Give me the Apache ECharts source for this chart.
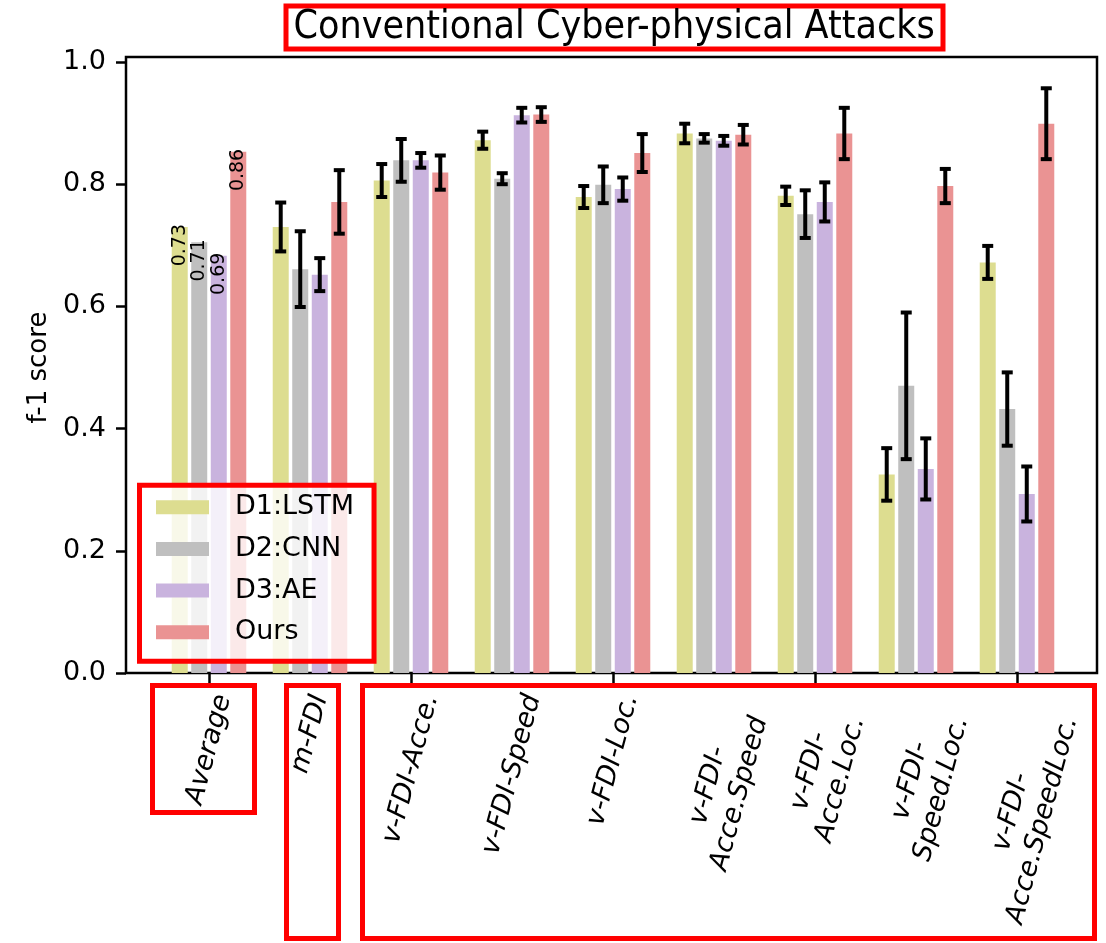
<!DOCTYPE html>
<html>
<head>
<meta charset="utf-8">
<script src="https://cdn.jsdelivr.net/npm/echarts@6/dist/echarts.min.js"></script>
<style>
  html, body { margin: 0; padding: 0; background: #fff; }
  #chart { width: 1106px; height: 943px; }
</style>
</head>
<body>
<div id="chart"></div>
<script>
var categories = ['Average', 'm-FDI', 'v-FDI-Acce.', 'v-FDI-Speed', 'v-FDI-Loc.',
  'v-FDI-\nAcce.Speed', 'v-FDI-\nAcce.Loc.', 'v-FDI-\nSpeed.Loc.', 'v-FDI-\nAcce.SpeedLoc.'];
var modelNames = ['D1:LSTM', 'D2:CNN', 'D3:AE', 'Ours'];

// bar heights
var lstm = [0.730, 0.730, 0.806, 0.872, 0.779, 0.883, 0.781, 0.325, 0.672];
var cnn  = [0.705, 0.661, 0.839, 0.809, 0.799, 0.875, 0.751, 0.470, 0.432];
var ae   = [0.683, 0.652, 0.839, 0.913, 0.792, 0.871, 0.771, 0.334, 0.293];
var ours = [0.853, 0.771, 0.819, 0.914, 0.851, 0.881, 0.883, 0.797, 0.899];

// half length of the error bars (none on the Average group)
var lstmErr = [null, 0.040, 0.027, 0.014, 0.018, 0.016, 0.015, 0.043, 0.027];
var cnnErr  = [null, 0.062, 0.035, 0.009, 0.030, 0.007, 0.039, 0.120, 0.060];
var aeErr   = [null, 0.027, 0.012, 0.012, 0.019, 0.008, 0.032, 0.050, 0.045];
var oursErr = [null, 0.052, 0.028, 0.012, 0.031, 0.016, 0.042, 0.028, 0.058];

// text printed on the Average bars
var avgLabels = ['0.73', '0.71', '0.69', '0.86'];

var yTicks = [0, 0.2, 0.4, 0.6, 0.8, 1.0];

var colors = ['#dddd90', '#bfbfbf', '#c9b3de', '#ea9393'];
var means = [lstm, cnn, ae, ours];
var errs = [lstmErr, cnnErr, aeErr, oursErr];

var font = 'DejaVu Sans';
var barW = 16;
var barGapPct = 22;
var barStep = barW * (1 + barGapPct / 100);

// x labels: matplotlib centres the rotated box under the tick,
// so work out where the centre of each rotated label goes
var theta = 75 * Math.PI / 180;
var xLabelSize = 27, xLabelLineH = 32, xLabelGap = 18;
var ctx = document.createElement('canvas').getContext('2d');
ctx.font = 'italic ' + xLabelSize + 'px "' + font + '"';
function lineW(s) { return ctx.measureText(s).width; }

var xLabelShift = categories.map(function (c) {
  var lines = c.split('\n');
  var L = Math.max.apply(null, lines.map(lineW));
  var H = lines.length * xLabelLineH;
  var multi = lines.length > 1;
  return {
    sx: multi ? 10 : 0,
    sy: xLabelGap + (L * Math.sin(theta) + H * Math.cos(theta)) / 2 + (multi ? 14 : 0)
  };
});

function barData(j) {
  return means[j].map(function (v, i) {
    if (i !== 0) return v;
    return {
      value: v,
      label: {
        show: true,
        position: 'insideTop',
        distance: -3,
        rotate: 90,
        align: 'right',
        verticalAlign: 'middle',
        formatter: avgLabels[j],
        fontFamily: font,
        fontSize: 19,
        color: '#000'
      }
    };
  });
}

function errData(j) {
  var out = [];
  for (var i = 0; i < means[j].length; i++) {
    if (errs[j][i] == null) continue;
    out.push([i, means[j][i] - errs[j][i], means[j][i] + errs[j][i]]);
  }
  return out;
}

function errSeries(j) {
  return {
    type: 'custom',
    name: 'err' + j,
    xAxisIndex: 1,
    yAxisIndex: 1,
    z: 5,
    silent: true,
    data: errData(j),
    renderItem: function (params, api) {
      var x = api.coord([api.value(0), 0])[0] + (j - 1.5) * barStep;
      var lo = api.coord([api.value(0), api.value(1)])[1];
      var hi = api.coord([api.value(0), api.value(2)])[1];
      var st = { stroke: '#000', lineWidth: 4 };
      var cap = 5.5;
      return {
        type: 'group',
        children: [
          { type: 'line', shape: { x1: x, y1: lo, x2: x, y2: hi }, style: st },
          { type: 'line', shape: { x1: x - cap, y1: lo, x2: x + cap, y2: lo }, style: st },
          { type: 'line', shape: { x1: x - cap, y1: hi, x2: x + cap, y2: hi }, style: st }
        ]
      };
    }
  };
}

var series = [];
for (var j = 0; j < 4; j++) {
  series.push({
    type: 'bar',
    name: modelNames[j],
    xAxisIndex: 1,
    yAxisIndex: 1,
    barWidth: barW,
    barGap: barGapPct + '%',
    itemStyle: { color: colors[j] },
    data: barData(j)
  });
}
for (var j = 0; j < 4; j++) series.push(errSeries(j));

// category labels, placed from the axis scale
series.push({
  type: 'custom',
  name: 'xlabels',
  xAxisIndex: 1,
  yAxisIndex: 1,
  silent: true,
  clip: false,
  z: 10,
  data: categories.map(function (c, i) { return [i, 0]; }),
  renderItem: function (params, api) {
    var i = api.value(0);
    var p = api.coord([i, 0]);
    var s = xLabelShift[i];
    return {
      type: 'text',
      x: p[0] + s.sx,
      y: p[1] + s.sy,
      rotation: theta,
      style: {
        text: categories[i],
        align: 'center',
        verticalAlign: 'middle',
        fill: '#000',
        fontFamily: font,
        fontStyle: 'italic',
        fontSize: xLabelSize,
        lineHeight: xLabelLineH
      }
    };
  }
});

function redBox(x, y, w, h) {
  return {
    type: 'rect',
    z: 100,
    shape: { x: x, y: y, width: w, height: h },
    style: { fill: null, stroke: '#ff0000', lineWidth: 5 }
  };
}

var chart = echarts.init(document.getElementById('chart'));
chart.setOption({
  animation: false,
  backgroundColor: '#fff',
  title: {
    text: 'Conventional Cyber-physical Attacks',
    left: 285.5,
    top: 5.5,
    padding: [2, 8, 2, 8],
    borderColor: '#ff0000',
    borderWidth: 5,
    textStyle: {
      fontFamily: '"DejaVu Sans Condensed", "DejaVu Sans"',
      fontSize: 39,
      fontWeight: 'normal',
      color: '#000',
      lineHeight: 40
    }
  },
  legend: {
    data: modelNames,
    orient: 'vertical',
    left: 139.5,
    top: 485.2,
    padding: [7, 20, 14, 16.5],
    itemWidth: 53,
    itemHeight: 14,
    itemGap: 11.7,
    backgroundColor: 'rgba(255,255,255,0.8)',
    borderColor: '#ff0000',
    borderWidth: 5,
    borderRadius: 0,
    icon: 'rect',
    textStyle: {
      fontFamily: font,
      fontSize: 27,
      color: '#000',
      lineHeight: 30,
      padding: [0, 0, 0, 21]
    }
  },
  grid: [
    { left: 126, right: 9, top: 57, bottom: 270, show: true, borderColor: '#000', borderWidth: 2.5,
      backgroundColor: 'transparent', outerBoundsMode: 'none' },
    { left: 158.5, right: 38.5, top: 62, bottom: 270, outerBoundsMode: 'none' }
  ],
  xAxis: [
    { gridIndex: 0, type: 'value', show: false, min: 0, max: 1 },
    {
      gridIndex: 1,
      type: 'category',
      data: categories,
      axisLine: { show: false },
      axisTick: { show: true, alignWithLabel: true, length: 10, lineStyle: { color: '#000', width: 2.5 } },
      axisLabel: { show: false }
    }
  ],
  yAxis: [
    { gridIndex: 0, type: 'value', show: false, min: 0, max: 1 },
    {
      gridIndex: 1,
      type: 'value',
      min: yTicks[0],
      max: yTicks[yTicks.length - 1],
      interval: 0.2,
      offset: 32.5,
      name: 'f-1 score',
      nameLocation: 'middle',
      nameGap: 74,
      nameRotate: 90,
      nameTextStyle: { fontFamily: font, fontSize: 26, color: '#000' },
      axisLine: { show: false },
      axisTick: { show: true, length: 10, lineStyle: { color: '#000', width: 2.5 } },
      splitLine: { show: false },
      axisLabel: {
        margin: 20,
        fontFamily: font,
        fontSize: 27,
        color: '#000',
        formatter: function (v) { return v.toFixed(1); }
      }
    }
  ],
  graphic: [
    redBox(152.5, 685.5, 102, 127),
    redBox(286.5, 685.5, 52, 253),
    redBox(362.5, 685.5, 732, 253)
  ],
  series: series
});
</script>
</body>
</html>
